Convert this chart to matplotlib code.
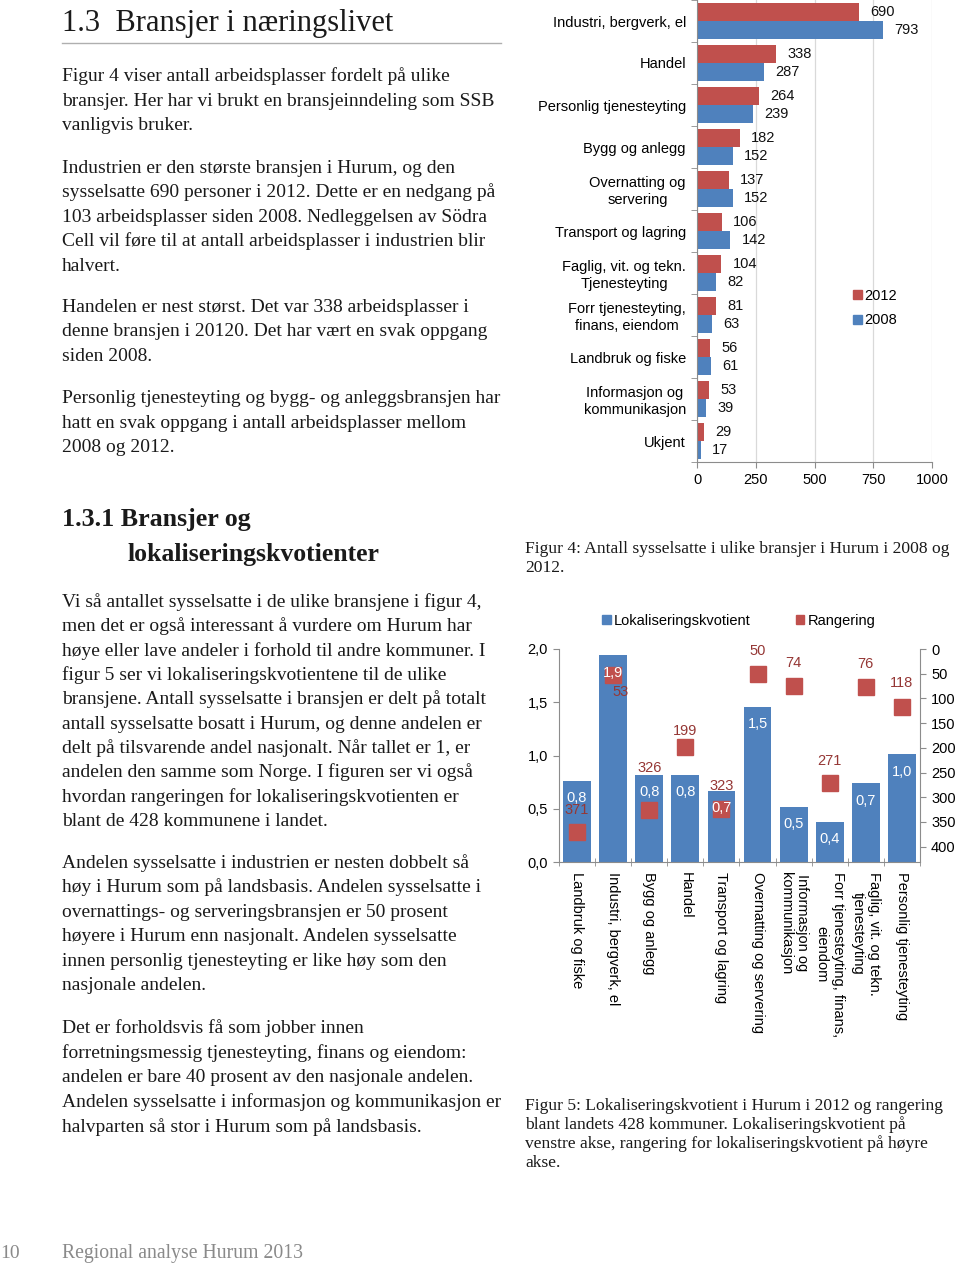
import numpy as np
import matplotlib
matplotlib.use("Agg")
import matplotlib.pyplot as plt
from matplotlib.patches import Patch
from matplotlib.lines import Line2D
from matplotlib.ticker import FuncFormatter

# ---------------- data ----------------
branches = ["Industri, bergverk, el", "Handel", "Personlig tjenesteyting",
            "Bygg og anlegg", "Overnatting og\nservering", "Transport og lagring",
            "Faglig, vit. og tekn.\nTjenesteyting", "Forr tjenesteyting,\nfinans, eiendom",
            "Landbruk og fiske", "Informasjon og\nkommunikasjon", "Ukjent"]
jobs_2012 = [690, 338, 264, 182, 137, 106, 104, 81, 56, 53, 29]
jobs_2008 = [793, 287, 239, 152, 152, 142, 82, 63, 61, 39, 17]
x_ticks_1 = [0, 250, 500, 750, 1000]

lq_categories = ["Landbruk og fiske", "Industri, bergverk, el", "Bygg og anlegg", "Handel",
                 "Transport og lagring", "Overnatting og servering",
                 "Informasjon og\nkommunikasjon", "Forr tjenesteyting, finans,\neiendom",
                 "Faglig, vit. og tekn.\ntjenesteyting", "Personlig tjenesteyting"]
lq_values = [0.76, 1.94, 0.82, 0.82, 0.67, 1.46, 0.52, 0.38, 0.74, 1.01]
lq_rank = [371, 53, 326, 199, 323, 50, 74, 271, 76, 118]
lq_ticks = [0.0, 0.5, 1.0, 1.5, 2.0]
rank_ticks = [0, 50, 100, 150, 200, 250, 300, 350, 400]

# ---------------- texts ----------------
heading_1 = "1.3  Bransjer i næringslivet"
heading_2 = ["1.3.1 Bransjer og", "lokaliseringskvotienter"]
para1 = ["Figur 4 viser antall arbeidsplasser fordelt på ulike",
         "bransjer. Her har vi brukt en bransjeinndeling som SSB",
         "vanligvis bruker."]
para2 = ["Industrien er den største bransjen i Hurum, og den",
         "sysselsatte 690 personer i 2012. Dette er en nedgang på",
         "103 arbeidsplasser siden 2008. Nedleggelsen av Södra",
         "Cell vil føre til at antall arbeidsplasser i industrien blir",
         "halvert."]
para3 = ["Handelen er nest størst. Det var 338 arbeidsplasser i",
         "denne bransjen i 20120. Det har vært en svak oppgang",
         "siden 2008."]
para4 = ["Personlig tjenesteyting og bygg- og anleggsbransjen har",
         "hatt en svak oppgang i antall arbeidsplasser mellom",
         "2008 og 2012."]
para5 = ["Vi så antallet sysselsatte i de ulike bransjene i figur 4,",
         "men det er også interessant å vurdere om Hurum har",
         "høye eller lave andeler i forhold til andre kommuner. I",
         "figur 5 ser vi lokaliseringskvotientene til de ulike",
         "bransjene. Antall sysselsatte i bransjen er delt på totalt",
         "antall sysselsatte bosatt i Hurum, og denne andelen er",
         "delt på tilsvarende andel nasjonalt. Når tallet er 1, er",
         "andelen den samme som Norge. I figuren ser vi også",
         "hvordan rangeringen for lokaliseringskvotienten er",
         "blant de 428 kommunene i landet."]
para6 = ["Andelen sysselsatte i industrien er nesten dobbelt så",
         "høy i Hurum som på landsbasis. Andelen sysselsatte i",
         "overnattings- og serveringsbransjen er 50 prosent",
         "høyere i Hurum enn nasjonalt. Andelen sysselsatte",
         "innen personlig tjenesteyting er like høy som den",
         "nasjonale andelen."]
para7 = ["Det er forholdsvis få som jobber innen",
         "forretningsmessig tjenesteyting, finans og eiendom:",
         "andelen er bare 40 prosent av den nasjonale andelen.",
         "Andelen sysselsatte i informasjon og kommunikasjon er",
         "halvparten så stor i Hurum som på landsbasis."]
caption4 = ["Figur 4: Antall sysselsatte i ulike bransjer i Hurum i 2008 og", "2012."]
caption5 = ["Figur 5: Lokaliseringskvotient i Hurum i 2012 og rangering",
            "blant landets 428 kommuner. Lokaliseringskvotient på",
            "venstre akse, rangering for lokaliseringskvotient på høyre",
            "akse."]
footer_page = "10"
footer_title = "Regional analyse Hurum 2013"

# ---------------- style ----------------
W, H = 960, 1263
BLUE = "#4F81BD"
RED = "#C0504D"
DARKRED = "#953735"
SPINE = "#8C8C8C"
GRID = "#D9D9D9"
SANS = ["Liberation Sans", "DejaVu Sans"]
SERIF = ["Liberation Serif", "DejaVu Serif"]
TXT = "#1a1a1a"
CFS = 10.5  # chart font size

plt.rcParams["font.family"] = SANS
fig = plt.figure(figsize=(W / 100, H / 100), dpi=100)


def fx(x):
    return x / W


def fy(y):
    return 1 - y / H


def axes_px(l, t, r, b):
    return fig.add_axes([l / W, 1 - b / H, (r - l) / W, (b - t) / H])


def draw_lines(lines, x, y0, step, size, **kw):
    for i, s in enumerate(lines):
        fig.text(fx(x), fy(y0 + i * step), s, fontsize=size, va="baseline",
                 ha="left", family=SERIF, color=kw.get("color", TXT),
                 fontweight=kw.get("weight", "normal"))


# ---------------- page text ----------------
BODY = 14.0
fig.text(fx(62), fy(31), heading_1, fontsize=22, family=SERIF, color=TXT, va="baseline")
fig.add_artist(Line2D([fx(62), fx(501)], [fy(43), fy(43)], color="#AFAFAF", lw=1.0,
                      transform=fig.transFigure))
draw_lines(para1, 62, 81, 24.5, BODY)
draw_lines(para2, 62, 173, 24.4, BODY)
draw_lines(para3, 62, 312, 24.5, BODY)
draw_lines(para4, 62, 403, 24.5, BODY)
fig.text(fx(62), fy(526), heading_2[0], fontsize=18.7, family=SERIF, color=TXT,
         va="baseline", fontweight="bold")
fig.text(fx(128), fy(561), heading_2[1], fontsize=18.5, family=SERIF, color=TXT,
         va="baseline", fontweight="bold")
draw_lines(para5, 62, 607, 24.35, BODY)
draw_lines(para6, 62, 868, 24.4, BODY)
draw_lines(para7, 62, 1033, 24.75, BODY)
draw_lines(caption4, 525, 553, 19, 12.6)
draw_lines(caption5, 525, 1110, 19, 12.6)
fig.text(fx(0), fy(1258), footer_page, fontsize=14, family=SERIF, color="#8a8a8a", va="baseline")
fig.text(fx(62), fy(1258), footer_title, fontsize=14.2, family=SERIF, color="#8a8a8a", va="baseline")

# ---------------- chart 1: horizontal bars ----------------
ax1 = axes_px(697, 0, 932, 462)
n = len(branches)
ypos = np.arange(n)
b12 = ax1.barh(ypos - 0.215, jobs_2012, height=0.43, color=RED, label="2012", zorder=2)
b08 = ax1.barh(ypos + 0.215, jobs_2008, height=0.43, color=BLUE, label="2008", zorder=2)
ax1.bar_label(b12, padding=8, fontsize=CFS, color="#111111")
ax1.bar_label(b08, padding=8, fontsize=CFS, color="#111111")
ax1.set_ylim(n - 0.5, -0.5)
ax1.set_xlim(0, 1000)
ax1.set_xticks(x_ticks_1)
ax1.set_xticklabels([str(v) for v in x_ticks_1], fontsize=CFS)
ax1.set_yticks(ypos)
ax1.set_yticklabels(branches, fontsize=CFS)
for t in ax1.get_yticklabels():
    t.set_multialignment("center")
ax1.set_yticks(np.arange(-0.5, n, 1.0), minor=True)
ax1.tick_params(axis="y", which="major", length=0, pad=8)
ax1.tick_params(axis="y", which="minor", length=4, color=SPINE)
ax1.tick_params(axis="x", length=4, color=SPINE, pad=4)
ax1.grid(axis="x", color=GRID, lw=0.9, zorder=0)
ax1.set_axisbelow(True)
for s in ["top", "right"]:
    ax1.spines[s].set_visible(False)
for s in ["left", "bottom"]:
    ax1.spines[s].set_color(SPINE)
fig.legend(handles=[Patch(color=RED, label="2012"), Patch(color=BLUE, label="2008")],
           loc="upper left", bbox_to_anchor=(fx(853), fy(289)), frameon=False,
           handlelength=0.6, handleheight=0.6, handletextpad=0.2, labelspacing=0.72,
           fontsize=CFS, borderpad=0, borderaxespad=0)

# ---------------- chart 2: LQ bars + rank markers ----------------
ax2 = axes_px(559, 649, 920, 862)
xpos = np.arange(len(lq_categories))
bars = ax2.bar(xpos, lq_values, width=0.77, color=BLUE, zorder=2)
ax2.set_xlim(-0.5, len(lq_categories) - 0.5)
ax2.set_ylim(0, 2.0)
ax2.set_yticks(lq_ticks)
comma = FuncFormatter(lambda v, p: f"{v:.1f}".replace(".", ","))
ax2.yaxis.set_major_formatter(comma)
ax2.tick_params(axis="y", length=4, color=SPINE, labelsize=CFS, pad=4)
ax2.set_xticks(xpos)
ax2.set_xticklabels(lq_categories, fontsize=CFS)
for t in ax2.get_xticklabels():
    t.set_rotation(270)
    t.set_ha("center")
    t.set_va("top")
    t.set_multialignment("center")
ax2.set_xticks(np.arange(-0.5, len(lq_categories), 1.0), minor=True)
ax2.tick_params(axis="x", which="major", length=0, pad=7)
ax2.tick_params(axis="x", which="minor", length=6, direction="inout", color=SPINE)
for s in ["top", "right"]:
    ax2.spines[s].set_visible(False)
for s in ["left", "bottom"]:
    ax2.spines[s].set_color(SPINE)

ax3 = ax2.twinx()
ax3.plot(xpos, lq_rank, linestyle="none", marker="s", markersize=11.5, color=RED, zorder=3)
ax3.set_ylim(431, 0)
ax3.set_yticks(rank_ticks)
ax3.tick_params(axis="y", length=4, color=SPINE, labelsize=CFS, pad=4)
for s in ["top", "left", "bottom"]:
    ax3.spines[s].set_visible(False)
ax3.spines["right"].set_color(SPINE)

# label offsets (points) for rank labels
rank_offsets = [(0, 16), (5, -12), (0, 30), (0, 11.5), (0, 16), (0, 16.5),
                (0, 16.5), (0, 16), (0, 16.5), (0, 17.5)]
for xi, r, off in zip(xpos, lq_rank, rank_offsets):
    ax3.annotate(str(r), xy=(xi, r), xytext=off, textcoords="offset points",
                 ha="center", va="center", fontsize=CFS, color=DARKRED, zorder=5)
for xi, v in zip(xpos, lq_values):
    ax3.annotate(f"{v:.1f}".replace(".", ","), xy=(xi, v), xycoords=ax2.transData,
                 xytext=(0, -12.5), textcoords="offset points",
                 ha="center", va="center", fontsize=CFS, color="white", zorder=6)

fig.legend(handles=[Patch(color=BLUE, label="Lokaliseringskvotient"),
                    Patch(color=RED, label="Rangering")],
           loc="center left", bbox_to_anchor=(fx(602), fy(621)), ncol=2, frameon=False,
           handlelength=0.6, handleheight=0.6, handletextpad=0.2, columnspacing=3.1,
           fontsize=CFS, borderpad=0, borderaxespad=0)

fig.savefig("out.png", dpi=100)
